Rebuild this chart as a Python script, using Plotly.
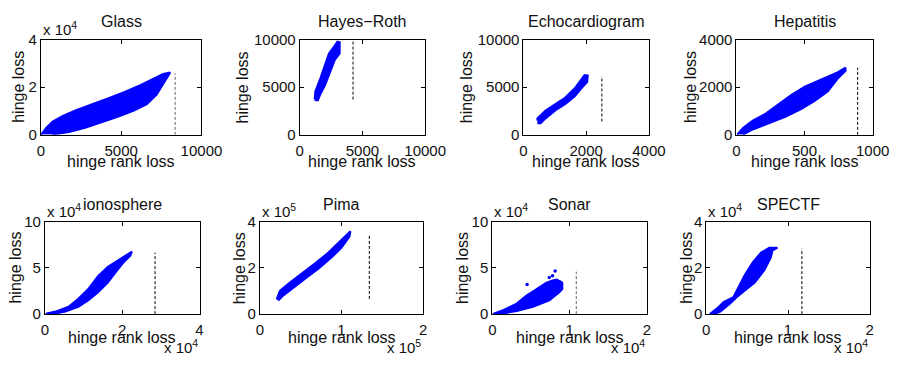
import plotly.graph_objects as go

W, H = 916, 366

# ---------------- data ----------------
titles = ["Glass", "Hayes\u2212Roth", "Echocardiogram", "Hepatitis",
          "ionosphere", "Pima", "Sonar", "SPECTF"]

# outline of each scatter cloud (hinge rank loss, hinge loss)
glass_x = [20, 324, 729, 1336, 2146, 3158, 4170, 5182, 6194, 7206, 7611, 8056,
           7914, 7611, 7206, 6599, 5789, 4777, 3765, 2753, 1741, 729]
glass_y = [133, 2924, 5581, 7841, 10233, 12625, 15283, 17941, 20865, 24188, 25517, 26181,
           24587, 20865, 16878, 12890, 10233, 7575, 5183, 2924, 1196, 133]

hayes_x = [1192, 1244, 1632, 2021, 2332, 2798, 3005, 3187, 3187, 2798, 2410, 2021, 1632, 1451, 1192]
hayes_y = [3721, 4551, 5880, 7375, 8538, 9368, 9767, 9700, 8538, 7873, 6544, 5216, 4219, 3621, 3621]

echo_x = [445, 445, 705, 1015, 1326, 1637, 1844, 1948, 2051, 2031, 1844, 1637, 1326, 1015, 705, 549, 445]
echo_y = [1495, 1727, 2558, 3222, 3887, 4883, 5814, 6279, 6212, 5548, 4883, 4053, 3222, 2558, 1727, 1229, 1229]

hep_x = [5, 48, 120, 215, 311, 407, 502, 622, 742, 801, 801, 742, 670, 574, 478, 359, 239, 120, 48]
hep_y = [13, 292, 598, 890, 1289, 1688, 2020, 2326, 2618, 2817, 2685, 2352, 1821, 1422, 1090, 757, 492, 226, 13]

iono_x = [252, 2773, 6134, 8655, 11176, 13697, 16218, 18739, 21260, 22521,
          22101, 20420, 18739, 16218, 13697, 11176, 8655, 5294, 1933]
iono_y = [345, 2759, 7931, 16552, 26897, 40690, 51034, 57931, 64138, 67586,
          63103, 56207, 47586, 33793, 23448, 14828, 7931, 2759, 0]

pima_x = [20592, 24552, 36432, 52272, 68112, 83952, 95832, 105732, 110880,
          109692, 99792, 87912, 72072, 56232, 40392, 28512, 22572]
pima_y = [63448, 100690, 135172, 176552, 220690, 266207, 307586, 344828, 358621,
          335172, 286897, 245517, 197241, 155862, 114483, 80000, 59310]

sonar_x = [84, 1474, 3158, 4421, 5684, 6947, 7789, 8300, 8800, 9052, 9052,
           8631, 7368, 5263, 3158, 968]
sonar_y = [345, 4483, 11379, 20000, 26897, 33793, 36500, 37500, 35500, 34000, 27000,
           23448, 14828, 7931, 3448, 0]

spectf_x = [439, 1317, 2116, 3313, 3912, 4710, 5708, 6706, 7704, 8702,
            8103, 7904, 7106, 5908, 4910, 3712, 2914, 1717, 918]
spectf_y = [0, 2483, 5241, 7310, 11448, 16966, 22483, 26621, 28690, 28690,
            27586, 24552, 19034, 13517, 10759, 7310, 4552, 1103, 0]

clouds_x = [glass_x, hayes_x, echo_x, hep_x, iono_x, pima_x, sonar_x, spectf_x]
clouds_y = [glass_y, hayes_y, echo_y, hep_y, iono_y, pima_y, sonar_y, spectf_y]

# isolated points standing out of the clouds
outlier_x = [[], [], [], [], [], [], [4500, 7368, 7789, 8125], []]
outlier_y = [[], [], [], [], [], [], [32000, 39600, 41400, 46500], []]

# dashed reference line: x position and y extent
dash_x = [8360, 4250, 2500, 890, 28500, 134000, 10860, 11700]
dash_y0 = [0, 3700, 1400, 0, 0, 66000, 0, 0]
dash_y1 = [25800, 9900, 6150, 2820, 66500, 340000, 45900, 28300]

# axis ranges and ticks
x_max = [10000, 10000, 4000, 1000, 40000, 200000, 20000, 20000]
y_max = [40000, 10000, 10000, 4000, 100000, 400000, 100000, 40000]
x_tickvals = [[0, 5000, 10000], [0, 5000, 10000], [0, 2000, 4000], [0, 500, 1000],
              [0, 20000, 40000], [0, 100000, 200000], [0, 10000, 20000], [0, 10000, 20000]]
x_ticktext = [["0", "5000", "10000"], ["0", "5000", "10000"], ["0", "2000", "4000"], ["0", "500", "1000"],
              ["0", "2", "4"], ["0", "1", "2"], ["0", "1", "2"], ["0", "1", "2"]]
y_tickvals = [[0, 20000, 40000], [0, 5000, 10000], [0, 5000, 10000], [0, 2000, 4000],
              [0, 50000, 100000], [0, 200000, 400000], [0, 50000, 100000], [0, 20000, 40000]]
y_ticktext = [["0", "2", "4"], ["0", "5000", "10000"], ["0", "5000", "10000"], ["0", "2000", "4000"],
              ["0", "5", "10"], ["0", "2", "4"], ["0", "5", "10"], ["0", "2", "4"]]
y_exp = ["4", None, None, None, "4", "5", "4", "4"]
x_exp = [None, None, None, None, "4", "5", "4", "4"]

# ---------------- layout (pixel boxes) ----------------
boxes = [  # left, right, top, bottom in px
    (38, 203, 32, 132), (304, 433, 32, 132), (534, 663, 32, 132), (753, 893, 32, 132),
    (42, 201, 223, 320), (263, 431, 223, 320), (502, 661, 223, 320), (722, 890, 223, 320),
]
ylabel_px = [15, 245, 475, 705, 12, 242, 472, 702]

def px(x):
    return x / W

def py(y):
    return 1 - y / H

FONT = "Liberation Sans, Arial, Helvetica, sans-serif"
TXT = "#111111"
BLUE = "#0000ff"

fig = go.Figure()
annotations = []
layout = {}

for i in range(8):
    n = i + 1
    xa = "x" if n == 1 else f"x{n}"
    ya = "y" if n == 1 else f"y{n}"
    l, r, t, b = boxes[i]
    fig.add_trace(go.Scatter(
        x=clouds_x[i], y=clouds_y[i], xaxis=xa, yaxis=ya, mode="lines",
        fill="toself", fillcolor=BLUE, line=dict(color=BLUE, width=2),
        showlegend=False, hoverinfo="skip"))
    if outlier_x[i]:
        fig.add_trace(go.Scatter(
            x=outlier_x[i], y=outlier_y[i], xaxis=xa, yaxis=ya, mode="markers",
            marker=dict(color=BLUE, size=3.5), showlegend=False, hoverinfo="skip"))
    dcol = "#666666" if i in (0, 6) else "#000000"
    fig.add_trace(go.Scatter(
        x=[dash_x[i], dash_x[i]], y=[dash_y0[i], dash_y1[i]], xaxis=xa, yaxis=ya,
        mode="lines", line=dict(color=dcol, width=1, dash="3px,2px"),
        showlegend=False, hoverinfo="skip"))
    axis_common = dict(showgrid=False, zeroline=False, showline=True, linecolor="black",
                       linewidth=1, mirror="ticks", ticks="inside", ticklen=4,
                       tickcolor="black", tickfont=dict(family=FONT, size=15, color=TXT),
                       fixedrange=True)
    layout[f"xaxis{'' if n == 1 else n}"] = dict(
        axis_common, domain=[px(l), px(r)], anchor=ya, range=[0, x_max[i]],
        tickvals=x_tickvals[i], ticktext=x_ticktext[i], ticklabelstandoff=2)
    layout[f"yaxis{'' if n == 1 else n}"] = dict(
        axis_common, domain=[py(b), py(t)], anchor=xa, range=[0, y_max[i]],
        tickvals=y_tickvals[i], ticktext=y_ticktext[i])

    cx = (l + r) / 2
    top_row = i < 4
    # title
    annotations.append(dict(text=titles[i], x=px(cx), y=py(13 if top_row else 205),
                            xref="paper", yref="paper", showarrow=False,
                            xanchor="center", yanchor="middle",
                            font=dict(family=FONT, size=16, color=TXT)))
    # x label
    annotations.append(dict(text="hinge rank loss", x=px(cx), y=py(160 if top_row else 345),
                            xref="paper", yref="paper", showarrow=False,
                            xanchor="center", yanchor="middle",
                            font=dict(family=FONT, size=16, color=TXT)))
    # y label
    annotations.append(dict(text="hinge loss", x=px(ylabel_px[i]), y=py((t + b) / 2),
                            xref="paper", yref="paper", showarrow=False, textangle=-90,
                            xanchor="center", yanchor="middle",
                            font=dict(family=FONT, size=16, color=TXT)))
    if y_exp[i]:
        annotations.append(dict(text=f"x 10<sup>{y_exp[i]}</sup>", x=px(l), y=py(t),
                                xref="paper", yref="paper", showarrow=False,
                                xanchor="left", yanchor="bottom",
                                font=dict(family=FONT, size=15, color=TXT)))
    if x_exp[i]:
        annotations.append(dict(text=f"x 10<sup>{x_exp[i]}</sup>", x=px(r), y=py(366),
                                xref="paper", yref="paper", showarrow=False,
                                xanchor="right", yanchor="bottom",
                                font=dict(family=FONT, size=15, color=TXT)))

fig.update_layout(
    width=W, height=H, margin=dict(l=0, r=0, t=0, b=0),
    paper_bgcolor="white", plot_bgcolor="white",
    annotations=annotations, **layout)

fig.write_html("out.html", config={"displayModeBar": False},
               post_script="document.body.style.margin='0';document.body.style.overflow='hidden';")
